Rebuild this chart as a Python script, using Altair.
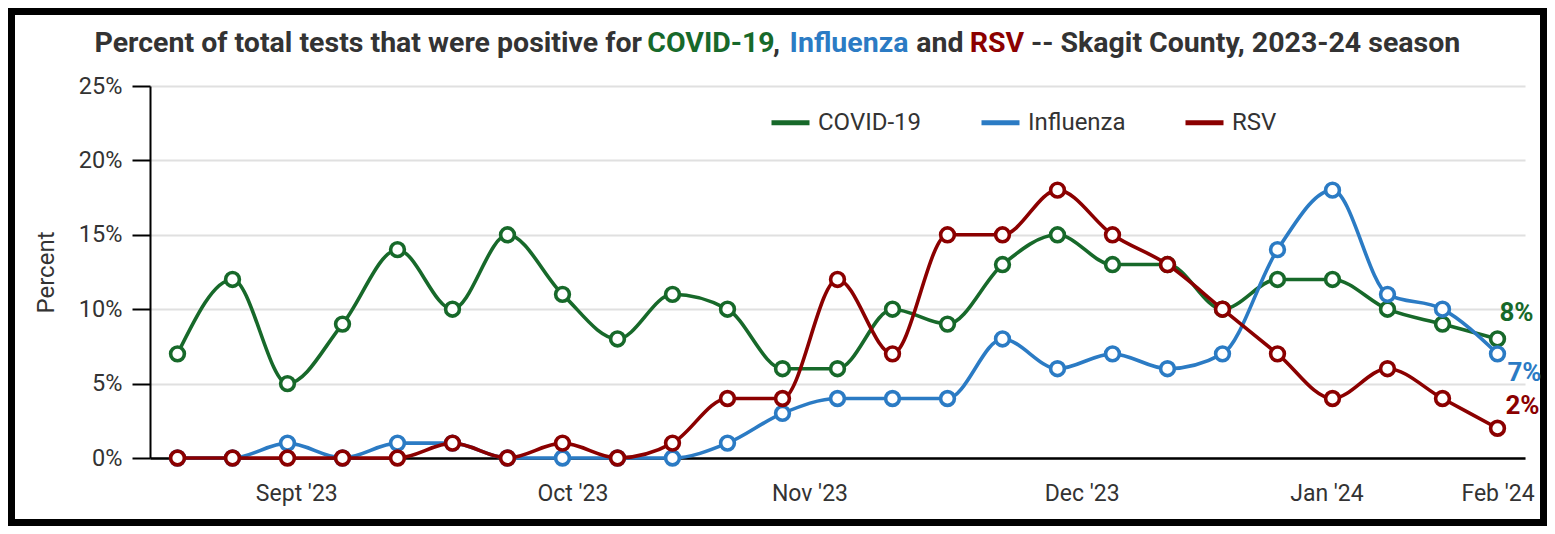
import json
import altair as alt
import pandas as pd

# ---------------- data ----------------
weeks = list(range(25))
covid = [7, 12, 5, 9, 14, 10, 15, 11, 8, 11, 10, 6, 6, 10, 9, 13, 15, 13, 13, 10, 12, 12, 10, 9, 8]
flu = [0, 0, 1, 0, 1, 1, 0, 0, 0, 0, 1, 3, 4, 4, 4, 8, 6, 7, 6, 7, 14, 18, 11, 10, 7]
rsv = [0, 0, 0, 0, 0, 1, 0, 1, 0, 1, 4, 4, 12, 7, 15, 15, 18, 15, 13, 10, 7, 4, 6, 4, 2]
series_names = ["COVID-19", "Influenza", "RSV"]
tick_positions = [2.16, 7.18, 11.49, 16.44, 20.89, 24.0]
tick_labels = ["Sept '23", "Oct '23", "Nov '23", "Dec '23", "Jan '24", "Feb '24"]
y_ticks = [0, 5, 10, 15, 20, 25]

# ---------------- styles ----------------
series_colors = ["#17692a", "#2b7bc4", "#8b0000"]
end_label_offsets = [(19, -26), (27, 19), (25, -22)]
FONT = "Roboto"
GRAY = "#333333"
W, H = 1375, 372
OX, OY = 150, 86  # page position of plot origin

rows = []
for name, vals in zip(series_names, [covid, flu, rsv]):
    for w, v in zip(weeks, vals):
        rows.append({"week": w, "series": name, "value": v})
df = pd.DataFrame(rows)

label_expr = (
    "[" + ",".join(json.dumps(l) for l in tick_labels) + "][indexof(["
    + ",".join(str(v) for v in tick_positions) + "], datum.value)]"
)

x = alt.X(
    "week:Q",
    scale=alt.Scale(domain=[-0.5, 24.5], nice=False, zero=False),
    axis=alt.Axis(
        values=tick_positions, labelExpr=label_expr, title=None, grid=False,
        ticks=False, domainColor="black", domainWidth=2.5, labelFontSize=23,
        labelColor=GRAY, labelFont=FONT, labelPadding=24, labelFlush=False,
        labelOverlap=False,
    ),
)
y = alt.Y(
    "value:Q",
    scale=alt.Scale(domain=[0, 25], nice=False),
    axis=alt.Axis(
        values=y_ticks, labelExpr="datum.value + '%'", title="Percent",
        titleFont=FONT, titleFontSize=24, titleFontWeight="normal", titleColor=GRAY,
        titleX=-104, titleY=H / 2, titleAngle=270, titleBaseline="middle", titleAlign="center",
        labelFont=FONT, labelFontSize=23.5, labelColor=GRAY, labelPadding=10,
        tickSize=18, tickColor="black", tickWidth=2, domainColor="black", domainWidth=2,
        grid=True, gridColor="#e0e0e0", gridWidth=2,
    ),
)
color = alt.Color(
    "series:N",
    scale=alt.Scale(domain=series_names, range=series_colors),
    legend=alt.Legend(
        title=None, orient="none", legendX=619, legendY=15, direction="horizontal",
        symbolType="stroke", symbolStrokeWidth=5, symbolSize=1444,
        labelFontSize=24, labelFont=FONT, labelColor=GRAY, labelOffset=6,
        columnPadding=49, padding=0,
    ),
)
stroke = alt.Stroke("series:N", scale=alt.Scale(domain=series_names, range=series_colors), legend=None)

layers = []

# frame
frame = alt.Chart(alt.Data(values=[{}])).mark_rect(
    fill="transparent", stroke="black", strokeWidth=7
).encode(
    x=alt.value(11.5 - OX), x2=alt.value(1543.5 - OX),
    y=alt.value(11.5 - OY), y2=alt.value(522.5 - OY),
)
layers.append(frame)

# title segments (text, colour, anchor x on page, align)
title_segments = [
    ("Percent of total tests that were positive for", GRAY, 642, "right"),
    ("COVID-19", series_colors[0], 711, "center"),
    (",", GRAY, 773, "left"),
    ("Influenza", series_colors[1], 849, "center"),
    ("and", GRAY, 940, "center"),
    ("RSV", series_colors[2], 997, "center"),
    ("-- Skagit County, 2023-24 season", GRAY, 1031, "left"),
]
for seg, c, ax, al in title_segments:
    layers.append(
        alt.Chart(alt.Data(values=[{}])).mark_text(
            text=seg, font=FONT, fontSize=28.5, fontWeight="bold", color=c,
            align=al, baseline="alphabetic",
        ).encode(x=alt.value(ax - OX), y=alt.value(52 - OY))
    )

for i, name in enumerate(series_names):
    base = alt.Chart(df).transform_filter(alt.datum.series == name)
    line = base.mark_line(interpolate="monotone", strokeWidth=3.6).encode(x=x, y=y, color=color)
    pts = base.mark_point(
        shape="circle", filled=False, fill="white", fillOpacity=1, opacity=1,
        strokeWidth=3.6, size=190,
    ).encode(x=x, y=y, stroke=stroke)
    dx, dy = end_label_offsets[i]
    lab = base.transform_filter(alt.datum.week == weeks[-1]).transform_calculate(
        lbl="datum.value + '%'"
    ).mark_text(
        font=FONT, fontSize=26, fontWeight="bold", color=series_colors[i],
        dx=dx, dy=dy, align="center", baseline="middle",
    ).encode(x=x, y=y, text="lbl:N")
    layers += [line, pts, lab]

chart = alt.layer(*layers).properties(width=W, height=H, padding=0).configure_view(strokeWidth=0)

chart.save("out.html", embed_options={"renderer": "svg", "actions": False})
